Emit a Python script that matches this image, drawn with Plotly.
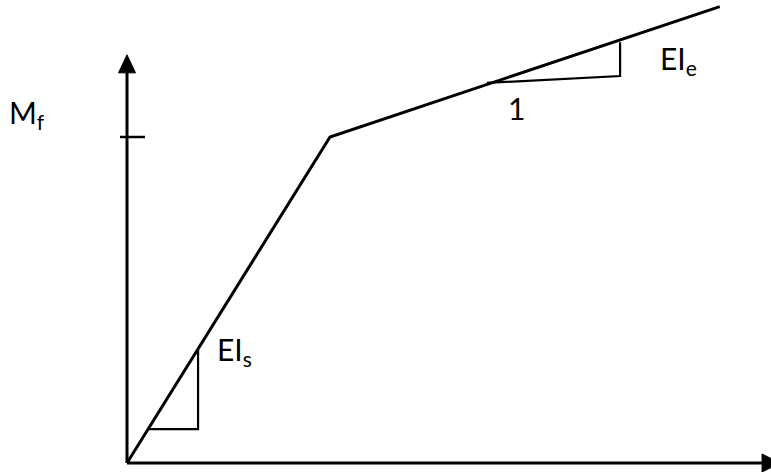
import plotly.graph_objects as go

# Bilinear moment-curvature schematic (normalised units: kink at curvature 1, moment 1)
curvature = [0.0, 1.0, 2.92]
moment = [0.0, 1.0, 1.40]

# slope triangles
tri_s_x = [0.103, 0.35, 0.35]
tri_s_y = [0.104, 0.104, 0.347]
tri_e_x = [1.773, 2.429, 2.429]
tri_e_y = [1.166, 1.187, 1.291]

# axis extents
x_axis_end = 3.217
y_axis_end = 1.252
m_tick = 1.0

labels = ["M<sub>f</sub>", "EI<sub>s</sub>", "EI<sub>e</sub>", "1"]
label_x = [-0.495, 0.53, 2.715, 1.92]
label_y = [1.072, 0.345, 1.235, 1.088]

# pixel scale of the plot (px per unit)
sx, sy = 203.0, 326.0
x_range = [-127 / sx, (771 - 127) / sx]
y_range = [-(472 - 463) / sy, 463 / sy]

fig = go.Figure()

# axes
fig.add_trace(go.Scatter(x=[0, 0, None, 0, x_axis_end - 9 / sx], y=[0, y_axis_end - 17 / sy, None, 0, 0],
                         mode="lines", line=dict(color="black", width=3), hoverinfo="skip"))
# arrowheads
ah_len_y, ah_w_y = 18 / sy, 8.5 / sx
fig.add_trace(go.Scatter(x=[-ah_w_y, ah_w_y, 0, -ah_w_y],
                         y=[y_axis_end - ah_len_y, y_axis_end - ah_len_y, y_axis_end, y_axis_end - ah_len_y],
                         mode="lines", fill="toself", fillcolor="black", line=dict(color="black", width=1),
                         hoverinfo="skip"))
ah_len_x, ah_w_x = 18 / sx, 9 / sy
fig.add_trace(go.Scatter(x=[x_axis_end - ah_len_x, x_axis_end - ah_len_x, x_axis_end, x_axis_end - ah_len_x],
                         y=[-ah_w_x, ah_w_x, 0, -ah_w_x],
                         mode="lines", fill="toself", fillcolor="black", line=dict(color="black", width=1),
                         hoverinfo="skip", cliponaxis=False))
# tick at yield moment
fig.add_trace(go.Scatter(x=[-7 / sx, 18 / sx], y=[m_tick, m_tick], mode="lines",
                         line=dict(color="black", width=2.5), hoverinfo="skip"))

# main curve
fig.add_trace(go.Scatter(x=curvature, y=moment, mode="lines",
                         line=dict(color="black", width=3), hoverinfo="skip"))

# slope triangles
fig.add_trace(go.Scatter(x=tri_s_x, y=tri_s_y, mode="lines",
                         line=dict(color="black", width=2.2), hoverinfo="skip"))
fig.add_trace(go.Scatter(x=tri_e_x, y=tri_e_y, mode="lines",
                         line=dict(color="black", width=2.2), hoverinfo="skip"))

for t, x, y in zip(labels, label_x, label_y):
    fig.add_annotation(x=x, y=y, text=t, showarrow=False, xanchor="center", yanchor="middle",
                       font=dict(family="Lato, Open Sans, sans-serif", size=30, color="black"))

fig.update_layout(
    width=771, height=472, margin=dict(l=0, r=0, t=0, b=0),
    paper_bgcolor="white", plot_bgcolor="white", showlegend=False,
    xaxis=dict(range=x_range, visible=False, fixedrange=True),
    yaxis=dict(range=y_range, visible=False, fixedrange=True),
)

fig.write_html("out.html", config={"displayModeBar": False},
               post_script="document.body.style.margin='0';document.body.style.overflow='hidden';")
